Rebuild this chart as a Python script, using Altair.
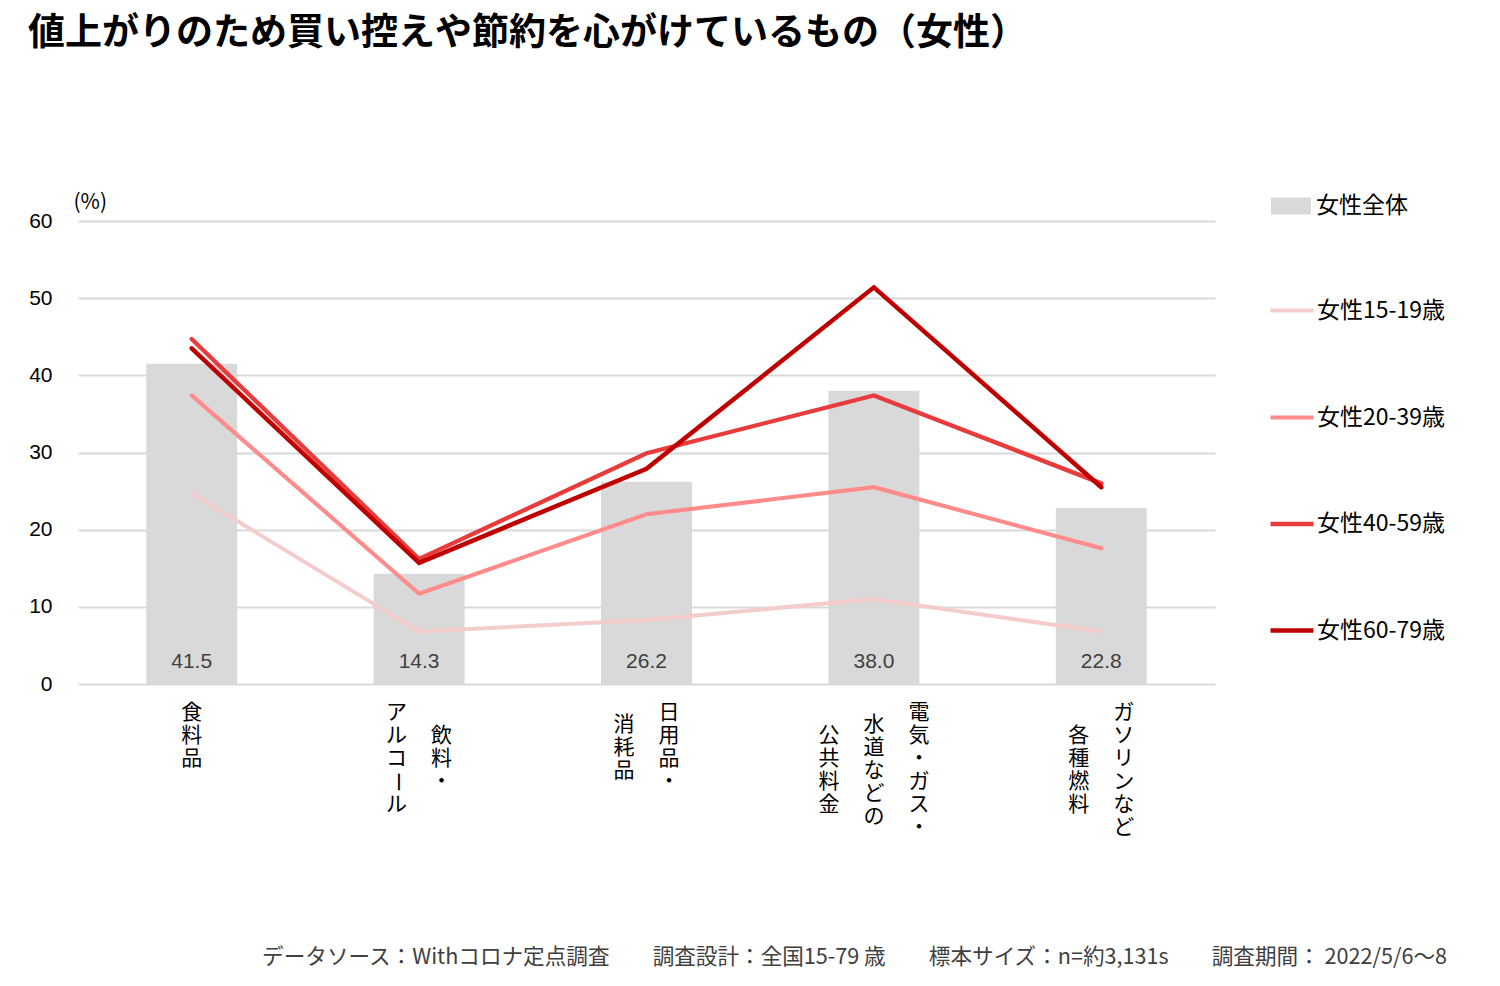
import altair as alt
import pandas as pd

# ---------------- data ----------------
title_text = "値上がりのため買い控えや節約を心がけているもの（女性）"
categories = ["食料品", "飲料・アルコール", "日用品・消耗品",
              "電気・ガス・水道などの公共料金", "ガソリンなど各種燃料"]
label_columns = [["食料品"], ["飲料・", "アルコール"], ["日用品・", "消耗品"],
                 ["電気・ガス・", "水道などの", "公共料金"], ["ガソリンなど", "各種燃料"]]
total_label = "女性全体"
total_values = [41.5, 14.3, 26.2, 38.0, 22.8]
series_names = ["女性15-19歳", "女性20-39歳", "女性40-59歳", "女性60-79歳"]
s15_19 = [24.7, 6.8, 8.3, 11.0, 6.8]
s20_39 = [37.4, 11.7, 22.0, 25.5, 17.6]
s40_59 = [44.7, 16.2, 29.9, 37.4, 26.0]
s60_79 = [43.5, 15.7, 27.9, 51.4, 25.5]
y_ticks = [0, 10, 20, 30, 40, 50, 60]
y_unit = "(%)"
footer_parts = ["データソース：Withコロナ定点調査", "調査設計：全国15-79 歳",
                "標本サイズ：n=約3,131s", "調査期間： 2022/5/6～8"]

# ---------------- styles ----------------
W, H = 1137, 463
JP = "Noto Sans CJK JP"
NUM = "Liberation Sans"
bar_color = "#D9D9D9"
line_colors = ["#F4CCCC", "#FF8B8B", "#E83C3C", "#C00000"]
line_widths = [4, 4.5, 4.5, 3.5]
col_gap = 45  # px between vertical text columns

# ---------------- tables ----------------
bar_df = pd.DataFrame({"category": categories, "value": total_values, "series": total_label})
series_vals = [s15_19, s20_39, s40_59, s60_79]
line_df = pd.DataFrame([
    {"category": c, "value": v, "series": s}
    for s, vals in zip(series_names, series_vals)
    for c, v in zip(categories, vals)
])

rows = []
for cat, cols in zip(categories, label_columns):
    n = len(cols)
    maxlen = max(len(c) for c in cols)
    for i, col in enumerate(cols):
        off = (n - 1) / 2 - i
        start = (maxlen - len(col)) / 2
        for r, ch in enumerate(col):
            rows.append({"category": cat, "char": ch, "col": off, "row": start + r,
                         "ang": 90 if ch == "ー" else 0})
char_df = pd.DataFrame(rows)
footer_df = pd.DataFrame({"t": ["　　".join(footer_parts)]})

xscale = alt.Scale(domain=categories, paddingInner=0.6, paddingOuter=0.3)
xenc = alt.X("category:N", sort=categories, scale=xscale, axis=None)

bars = alt.Chart(bar_df).mark_bar().encode(
    x=xenc,
    y=alt.Y("value:Q", scale=alt.Scale(domain=[0, 60], nice=False),
            axis=alt.Axis(values=y_ticks, title=y_unit, titleAngle=0, titleAlign="left",
                          titleBaseline="middle", titleX=-5, titleY=-19,
                          titleFont=JP, titleFontSize=21, titleFontWeight="normal",
                          titleColor="#000000",
                          labelFont=NUM, labelFontSize=21, labelColor="#000000",
                          labelPadding=26, ticks=False, domain=False,
                          gridColor="#D9D9D9", gridWidth=2)),
    color=alt.Color("series:N", scale=alt.Scale(domain=[total_label], range=[bar_color]),
                    legend=alt.Legend(title=None, orient="none", legendX=1193, legendY=-35,
                                      symbolType="M-1,-0.425H1V0.425H-1Z", symbolSize=1600,
                                      symbolStrokeWidth=0, labelFont=JP, labelFontSize=23,
                                      labelColor="#000000", labelOffset=5, padding=0)),
)

lines = alt.Chart(line_df).mark_line(strokeCap="round", strokeJoin="miter").encode(
    x=xenc,
    y=alt.Y("value:Q"),
    stroke=alt.Stroke("series:N", scale=alt.Scale(domain=series_names, range=line_colors),
                      legend=alt.Legend(title=None, orient="none", legendX=1190, legendY=66,
                                        symbolType="stroke", symbolSize=1849,
                                        symbolStrokeWidth=4, labelFont=JP, labelFontSize=23,
                                        labelColor="#000000", labelOffset=1, rowPadding=70.5,
                                        padding=0)),
    strokeWidth=alt.StrokeWidth("series:N", scale=alt.Scale(domain=series_names, range=line_widths),
                                legend=None),
)

values = alt.Chart(bar_df).mark_text(font=NUM, fontSize=21, color="#404040", dy=-22,
                                     baseline="middle").encode(
    x=xenc,
    y=alt.datum(0),
    text=alt.Text("value:Q", format=".1f"),
)

main = alt.layer(bars, lines, values)

# vertical (tategaki) category labels: one layer per column position / rotation
label_layers = []
for off in sorted(char_df["col"].unique()):
    for ang in sorted(char_df.loc[char_df["col"] == off, "ang"].unique()):
        shift = float(off) * col_gap
        # a rotated glyph's dx/dy act in the rotated frame
        offs = {"dx": shift} if ang == 0 else {"dy": -shift}
        label_layers.append(
            alt.Chart(char_df).transform_filter(
                (alt.datum.col == float(off)) & (alt.datum.ang == int(ang))
            ).mark_text(
                font=JP, fontSize=21, color="#000000", baseline="middle", align="center",
                **offs,
            ).encode(
                x=xenc,
                y=alt.Y("row:Q", scale=alt.Scale(domain=[0, 6], range=[492, 630]), axis=None),
                text="char:N",
                angle=alt.Angle("ang:Q", scale=None),
            )
        )
vlabels = alt.layer(*label_layers)

footer = alt.Chart(footer_df).mark_text(font=JP, fontSize=21.6, color="#404040",
                                        align="right", baseline="middle").encode(
    text="t:N", x=alt.value(1369), y=alt.value(737),
)

chart = alt.layer(main, vlabels, footer).resolve_scale(y="independent").properties(
    width=W, height=H,
    background="white",
    title=alt.TitleParams(title_text, anchor="start", frame="group", dx=-50,
                          fontSize=37, font=JP, fontWeight="bold", color="#000000",
                          baseline="alphabetic", offset=104),
    autosize=alt.AutoSizeParams(type="none"),
    padding={"left": 78, "top": 221, "right": 285, "bottom": 302},
).configure_view(stroke=None)

chart.save("out.html", embed_options={"renderer": "svg", "actions": False})
